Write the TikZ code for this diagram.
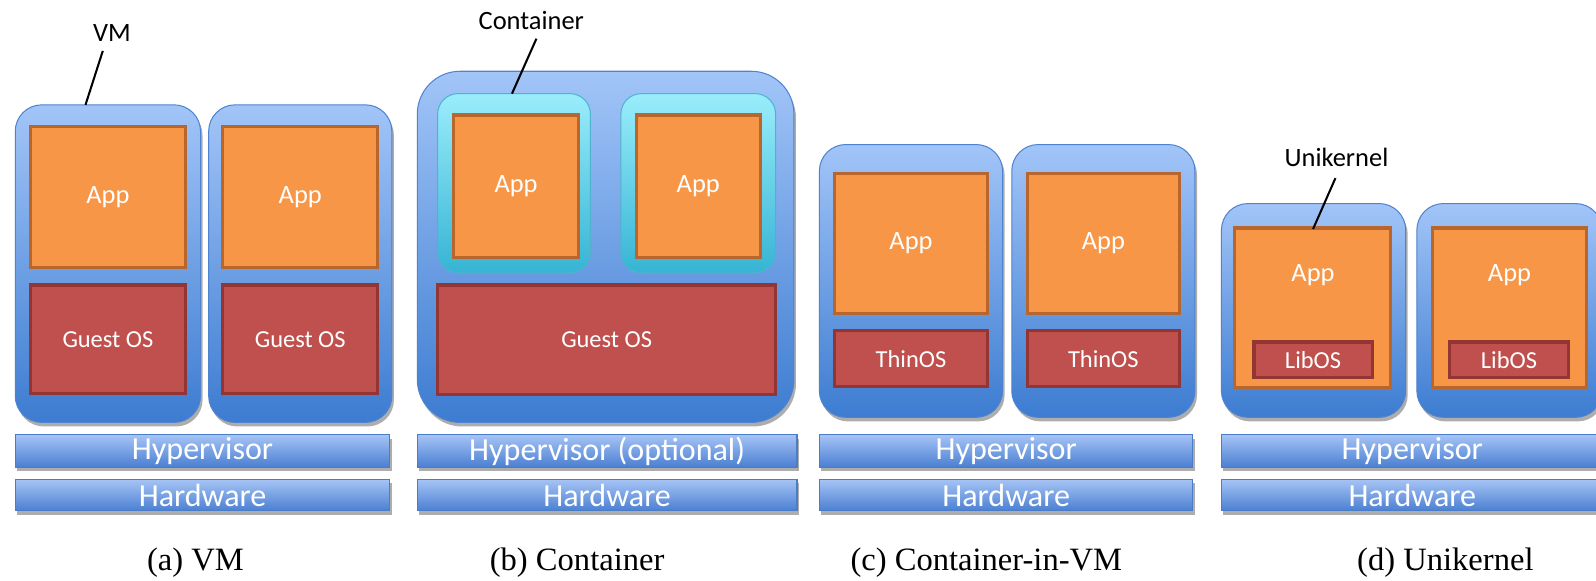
\documentclass[tikz,border=0pt]{standalone}
\usepackage{fontspec}
\setmainfont{Carlito}
\newfontfamily\capfont{Liberation Serif}
\usetikzlibrary{shadows}

\definecolor{vmtop}{HTML}{A2C5F8}
\definecolor{vmmid}{HTML}{72A2E8}
\definecolor{vmbot}{HTML}{3D7CD1}
\definecolor{vmedge}{HTML}{4F82CF}
\definecolor{bartop}{HTML}{A6C4F5}
\definecolor{barbot}{HTML}{4A7FD2}
\definecolor{baredge}{HTML}{4A7CC8}
\definecolor{cttop}{HTML}{9AEDFB}
\definecolor{ctbot}{HTML}{36B4D4}
\definecolor{ctedge}{HTML}{4FB3CF}
\definecolor{appfill}{HTML}{F79646}
\definecolor{appedge}{HTML}{B8662C}
\definecolor{osfill}{HTML}{C0504D}
\definecolor{osedge}{HTML}{923533}

\tikzset{
  shade/.style={drop shadow={shadow xshift=2pt,shadow yshift=-4pt,opacity=0.32,fill=black}},
  vmbox/.style={rectangle,rounded corners=26pt,draw=vmedge,line width=1pt,
    top color=vmtop,middle color=vmmid,bottom color=vmbot,shade,inner sep=0pt},
  ctbox/.style={rectangle,rounded corners=20pt,draw=ctedge,line width=1pt,
    top color=cttop,bottom color=ctbot,inner sep=0pt},
  appbox/.style={rectangle,fill=appfill,draw=appedge,line width=3pt,inner sep=0pt,
    text=white,font=\fontsize{26}{30}\selectfont},
  osbox/.style={rectangle,fill=osfill,draw=osedge,line width=3pt,inner sep=0pt,
    text=white,font=\fontsize{24}{28}\selectfont},
  barbox/.style={rectangle,draw=baredge,line width=1pt,top color=bartop,bottom color=barbot,
    shade,inner sep=0pt,minimum height=32pt,text=white,font=\fontsize{31.5}{34}\selectfont},
  tag/.style={font=\fontsize{26}{30}\selectfont,text=black},
  tagline/.style={draw=black,line width=2pt},
  caption/.style={font=\capfont\fontsize{32}{36}\selectfont,text=black},
  whitetext/.style={text=white,font=\fontsize{26}{30}\selectfont},
}

\begin{document}
\begin{tikzpicture}[x=1pt,y=-1pt]
\useasboundingbox (0,0) rectangle (1568,570);
\begin{scope}
\clip (0,0) rectangle (1568,570);

% ---------- (a) VM ----------
\node[vmbox,minimum width=182pt,minimum height=312pt] (a1) at (106,259) {};
\node[vmbox,minimum width=180pt,minimum height=312pt] (a2) at (295,259) {};
\node[appbox,minimum width=152pt,minimum height=139pt] (a1app) at (106,193.5) {App};
\node[osbox,minimum width=152pt,minimum height=107pt] (a1os) at (106,333.5) {Guest OS};
\node[appbox,minimum width=152pt,minimum height=139pt] (a2app) at (295,193.5) {App};
\node[osbox,minimum width=152pt,minimum height=107pt] (a2os) at (295,333.5) {Guest OS};
\node[barbox,minimum width=368pt] (ahyp) at (199,443) {Hypervisor};
\node[barbox,minimum width=368pt,minimum height=31pt] (ahw) at (199,486.5) {Hardware};
\node[tag] (avm) at (110,32) {VM};
\coordinate (avmtop) at (101,50);
\coordinate (avmtip) at (84,103);
\draw[tagline] (avmtop) -- (avmtip);
\node[caption] (acap) at (192,553) {(a) VM};

% ---------- (b) Container ----------
\node[vmbox,rounded corners=42pt,minimum width=370pt,minimum height=345pt] (bos) at (595,242.5) {};
\node[ctbox,minimum width=150pt,minimum height=176pt] (bc1) at (505,180) {};
\node[ctbox,minimum width=152pt,minimum height=176pt] (bc2) at (686,180) {};
\node[appbox,minimum width=122pt,minimum height=140pt] (bc1app) at (507,183) {App};
\node[appbox,minimum width=122pt,minimum height=140pt] (bc2app) at (686,183) {App};
\node[osbox,minimum width=332pt,minimum height=108pt] (bgos) at (596,334) {Guest OS};
\node[barbox,minimum width=373pt] (bhyp) at (596.5,443) {Hypervisor (optional)};
\node[barbox,minimum width=373pt,minimum height=31pt] (bhw) at (596.5,486.5) {Hardware};
\node[tag] (bct) at (522,20) {Container};
\coordinate (bcttop) at (527,38);
\coordinate (bcttip) at (503,92);
\draw[tagline] (bcttop) -- (bcttip);
\node[caption] (bcap) at (567,553) {(b) Container};

% ---------- (c) Container-in-VM ----------
\node[vmbox,minimum width=180pt,minimum height=268pt] (c1) at (895,276) {};
\node[vmbox,minimum width=180pt,minimum height=268pt] (c2) at (1084,276) {};
\node[appbox,minimum width=150pt,minimum height=138pt] (c1app) at (895,239) {App};
\node[osbox,minimum width=150pt,minimum height=55pt] (c1os) at (895,352.5) {ThinOS};
\node[appbox,minimum width=150pt,minimum height=138pt] (c2app) at (1084,239) {App};
\node[osbox,minimum width=150pt,minimum height=55pt] (c2os) at (1084,352.5) {ThinOS};
\node[barbox,minimum width=367pt] (chyp) at (988.5,443) {Hypervisor};
\node[barbox,minimum width=367pt,minimum height=31pt] (chw) at (988.5,486.5) {Hardware};
\node[caption] (ccap) at (969,553) {(c) Container-in-VM};

% ---------- (d) Unikernel ----------
\node[vmbox,minimum width=181pt,minimum height=210pt] (d1) at (1290.5,305) {};
\node[vmbox,minimum width=182pt,minimum height=210pt] (d2) at (1483,305) {};
\node[appbox,minimum width=153pt,minimum height=157pt] (d1app) at (1289.5,302.5) {};
\node[appbox,minimum width=152pt,minimum height=157pt] (d2app) at (1483,302.5) {};
\node[whitetext] (d1apptxt) at (1290,270) {App};
\node[whitetext] (d2apptxt) at (1483,270) {App};
\node[osbox,minimum width=116pt,minimum height=35pt] (d1lib) at (1290,353.5) {LibOS};
\node[osbox,minimum width=117pt,minimum height=35pt] (d2lib) at (1482.5,353.5) {LibOS};
\node[barbox,minimum width=375pt] (dhyp) at (1387.5,443) {Hypervisor};
\node[barbox,minimum width=375pt,minimum height=31pt] (dhw) at (1387.5,486.5) {Hardware};
\node[tag] (duk) at (1313,155) {Unikernel};
\coordinate (duktop) at (1312,175);
\coordinate (duktip) at (1290,225);
\draw[tagline] (duktop) -- (duktip);
\node[caption] (dcap) at (1420,553) {(d) Unikernel};
\end{scope}
\end{tikzpicture}
\end{document}
